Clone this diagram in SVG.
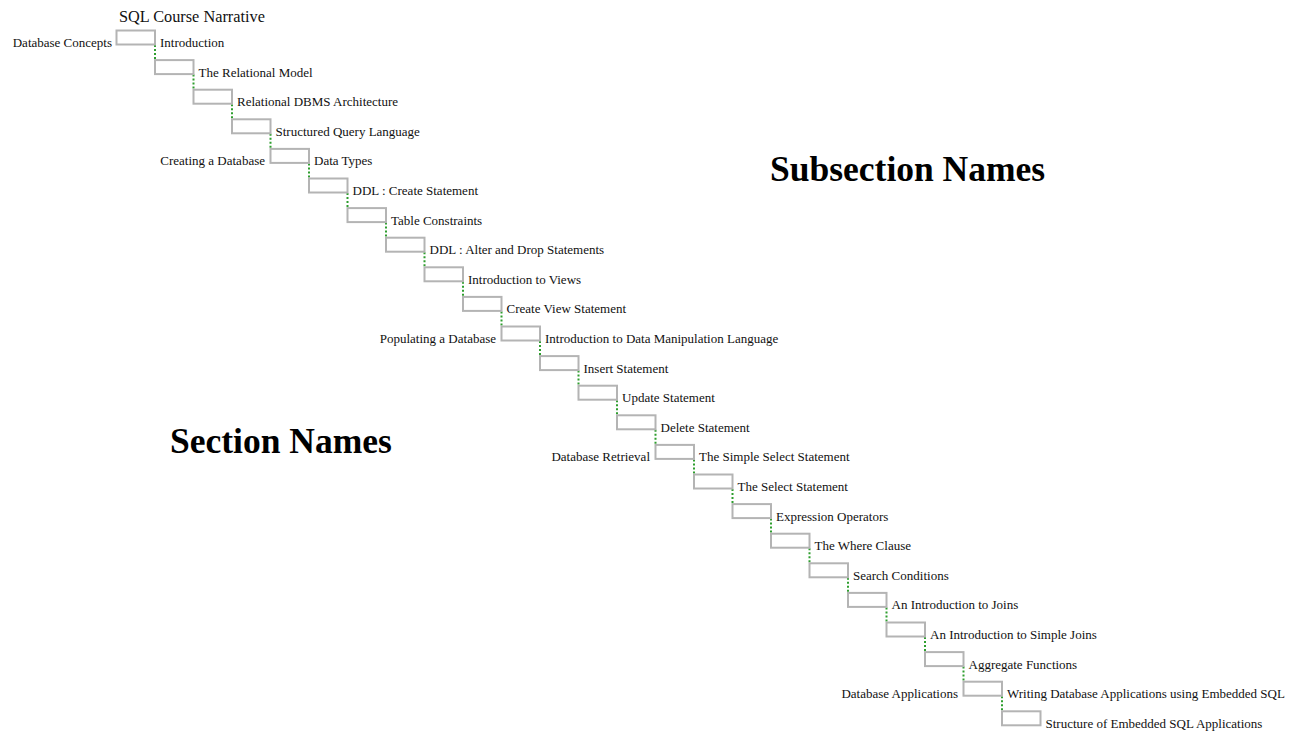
<svg xmlns="http://www.w3.org/2000/svg" width="1303" height="734" viewBox="0 0 1303 734">
<style>
.box{fill:none;stroke:#b4b4b4;stroke-width:2}
.lnk{stroke:#2e9e2e;stroke-width:2;stroke-dasharray:2 2;fill:none}
.sub{font-family:"Liberation Serif",serif;font-size:13px;fill:#111}
.sec{font-family:"Liberation Serif",serif;font-size:13px;fill:#111;text-anchor:end}
.big{font-family:"Liberation Serif",serif;font-weight:bold;font-size:35.5px;fill:#000}
.ttl{font-family:"Liberation Serif",serif;font-size:16.3px;fill:#111}
</style>
<rect width="1303" height="734" fill="#fff"/>
<text class="ttl" x="119" y="22">SQL Course Narrative</text>
<text class="big" x="170" y="453">Section Names</text>
<text class="big" x="770" y="181">Subsection Names</text>
<g id="connectors">
<line class="lnk" x1="155" y1="45" x2="155" y2="60"/>
<line class="lnk" x1="193.5" y1="74.6" x2="193.5" y2="89.7"/>
<line class="lnk" x1="232" y1="104.2" x2="232" y2="119.3"/>
<line class="lnk" x1="270.5" y1="133.8" x2="270.5" y2="148.9"/>
<line class="lnk" x1="309" y1="163.4" x2="309" y2="178.5"/>
<line class="lnk" x1="347.5" y1="193" x2="347.5" y2="208.1"/>
<line class="lnk" x1="386" y1="222.6" x2="386" y2="237.7"/>
<line class="lnk" x1="424.5" y1="252.2" x2="424.5" y2="267.3"/>
<line class="lnk" x1="463" y1="281.8" x2="463" y2="296.9"/>
<line class="lnk" x1="501.5" y1="311.4" x2="501.5" y2="326.5"/>
<line class="lnk" x1="540" y1="341" x2="540" y2="356.1"/>
<line class="lnk" x1="578.5" y1="370.6" x2="578.5" y2="385.7"/>
<line class="lnk" x1="617" y1="400.2" x2="617" y2="415.3"/>
<line class="lnk" x1="655.5" y1="429.8" x2="655.5" y2="444.9"/>
<line class="lnk" x1="694" y1="459.4" x2="694" y2="474.5"/>
<line class="lnk" x1="732.5" y1="489" x2="732.5" y2="504.1"/>
<line class="lnk" x1="771" y1="518.6" x2="771" y2="533.7"/>
<line class="lnk" x1="809.5" y1="548.2" x2="809.5" y2="563.3"/>
<line class="lnk" x1="848" y1="577.8" x2="848" y2="592.9"/>
<line class="lnk" x1="886.5" y1="607.4" x2="886.5" y2="622.5"/>
<line class="lnk" x1="925" y1="637" x2="925" y2="652.1"/>
<line class="lnk" x1="963.5" y1="666.6" x2="963.5" y2="681.7"/>
<line class="lnk" x1="1002" y1="696.2" x2="1002" y2="711.3"/>
</g>
<g id="n0"><rect class="box" x="116.5" y="30.5" width="38.5" height="14"/><text class="sub" x="160" y="47">Introduction</text><text class="sec" x="112" y="47">Database Concepts</text></g>
<g id="n1"><rect class="box" x="155" y="60.1" width="38.5" height="14"/><text class="sub" x="198.5" y="76.6">The Relational Model</text></g>
<g id="n2"><rect class="box" x="193.5" y="89.7" width="38.5" height="14"/><text class="sub" x="237" y="106.2">Relational DBMS Architecture</text></g>
<g id="n3"><rect class="box" x="232" y="119.3" width="38.5" height="14"/><text class="sub" x="275.5" y="135.8">Structured Query Language</text></g>
<g id="n4"><rect class="box" x="270.5" y="148.9" width="38.5" height="14"/><text class="sub" x="314" y="165.4">Data Types</text><text class="sec" x="265" y="165.4">Creating a Database</text></g>
<g id="n5"><rect class="box" x="309" y="178.5" width="38.5" height="14"/><text class="sub" x="352.5" y="195">DDL : Create Statement</text></g>
<g id="n6"><rect class="box" x="347.5" y="208.1" width="38.5" height="14"/><text class="sub" x="391" y="224.6">Table Constraints</text></g>
<g id="n7"><rect class="box" x="386" y="237.7" width="38.5" height="14"/><text class="sub" x="429.5" y="254.2">DDL : Alter and Drop Statements</text></g>
<g id="n8"><rect class="box" x="424.5" y="267.3" width="38.5" height="14"/><text class="sub" x="468" y="283.8">Introduction to Views</text></g>
<g id="n9"><rect class="box" x="463" y="296.9" width="38.5" height="14"/><text class="sub" x="506.5" y="313.4">Create View Statement</text></g>
<g id="n10"><rect class="box" x="501.5" y="326.5" width="38.5" height="14"/><text class="sub" x="545" y="343">Introduction to Data Manipulation Language</text><text class="sec" x="496" y="343">Populating a Database</text></g>
<g id="n11"><rect class="box" x="540" y="356.1" width="38.5" height="14"/><text class="sub" x="583.5" y="372.6">Insert Statement</text></g>
<g id="n12"><rect class="box" x="578.5" y="385.7" width="38.5" height="14"/><text class="sub" x="622" y="402.2">Update Statement</text></g>
<g id="n13"><rect class="box" x="617" y="415.3" width="38.5" height="14"/><text class="sub" x="660.5" y="431.8">Delete Statement</text></g>
<g id="n14"><rect class="box" x="655.5" y="444.9" width="38.5" height="14"/><text class="sub" x="699" y="461.4">The Simple Select Statement</text><text class="sec" x="650" y="461.4">Database Retrieval</text></g>
<g id="n15"><rect class="box" x="694" y="474.5" width="38.5" height="14"/><text class="sub" x="737.5" y="491">The Select Statement</text></g>
<g id="n16"><rect class="box" x="732.5" y="504.1" width="38.5" height="14"/><text class="sub" x="776" y="520.6">Expression Operators</text></g>
<g id="n17"><rect class="box" x="771" y="533.7" width="38.5" height="14"/><text class="sub" x="814.5" y="550.2">The Where Clause</text></g>
<g id="n18"><rect class="box" x="809.5" y="563.3" width="38.5" height="14"/><text class="sub" x="853" y="579.8">Search Conditions</text></g>
<g id="n19"><rect class="box" x="848" y="592.9" width="38.5" height="14"/><text class="sub" x="891.5" y="609.4">An Introduction to Joins</text></g>
<g id="n20"><rect class="box" x="886.5" y="622.5" width="38.5" height="14"/><text class="sub" x="930" y="639">An Introduction to Simple Joins</text></g>
<g id="n21"><rect class="box" x="925" y="652.1" width="38.5" height="14"/><text class="sub" x="968.5" y="668.6">Aggregate Functions</text></g>
<g id="n22"><rect class="box" x="963.5" y="681.7" width="38.5" height="14"/><text class="sub" x="1007" y="698.2">Writing Database Applications using Embedded SQL</text><text class="sec" x="958" y="698.2">Database Applications</text></g>
<g id="n23"><rect class="box" x="1002" y="711.3" width="38.5" height="14"/><text class="sub" x="1045.5" y="727.8">Structure of Embedded SQL Applications</text></g>
</svg>
